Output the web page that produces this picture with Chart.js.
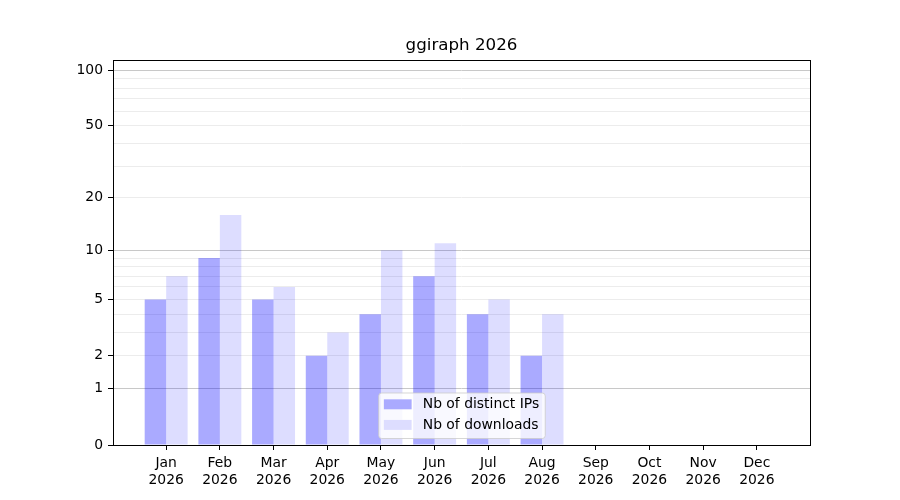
<!DOCTYPE html>
<html>
<head>
<meta charset="utf-8">
<script src="https://cdn.jsdelivr.net/npm/chart.js@4"></script>
<style>
  html, body { margin: 0; padding: 0; background: #ffffff; }
  #wrap { width: 900px; height: 500px; }
</style>
</head>
<body>
<div id="wrap"><canvas id="myChart" width="900" height="500"></canvas></div>
<script>
var months = ['Jan', 'Feb', 'Mar', 'Apr', 'May', 'Jun', 'Jul', 'Aug', 'Sep', 'Oct', 'Nov', 'Dec'];
var yearLabel = '2026';
var distinctIPs = [5, 9, 5, 2, 4, 7, 4, 2, 0, 0, 0, 0];
var downloads = [7, 16, 6, 3, 10, 11, 5, 4, 0, 0, 0, 0];
var yTickLabels = [0, 1, 2, 5, 10, 20, 50, 100];
var yGridMajor = [1, 10, 100];
var yGridMinor = [2, 3, 4, 5, 6, 7, 8, 9, 20, 30, 40, 50, 60, 70, 80, 90];
var yMaxValue = 113.5;

var FONT = 'DejaVu Sans';

// log10(1 + v) keeps zero on the axis
function fwd(v) { return Math.log10(1 + v); }
function inv(t) { return Math.round(Math.pow(10, t) - 1); }

function toPoints(arr) {
    return arr.map(function (v, i) { return { x: i, y: fwd(v) }; });
}

var allYTicks = [0].concat(yGridMajor, yGridMinor)
    .filter(function (v, i, a) { return a.indexOf(v) === i; })
    .sort(function (a, b) { return a - b; });

// black frame round the plot area
var framePlugin = {
    id: 'frame',
    afterDatasetsDraw: function (chart) {
        var a = chart.chartArea, ctx = chart.ctx;
        ctx.save();
        ctx.strokeStyle = '#000000';
        ctx.lineWidth = 1;
        ctx.strokeRect(Math.round(a.left) + 0.5, Math.round(a.top) + 0.5,
            Math.round(a.right - a.left), Math.round(a.bottom - a.top));
        ctx.restore();
    }
};

// legend in the lower middle of the plot area
var innerLegend = {
    id: 'innerLegend',
    afterDraw: function (chart) {
        var a = chart.chartArea, ctx = chart.ctx;
        var fs = 13.9;
        ctx.save();
        ctx.font = fs + 'px "' + FONT + '"';
        var sets = chart.data.datasets;
        var tw = 0;
        sets.forEach(function (d) { tw = Math.max(tw, ctx.measureText(d.label).width); });
        var pad = 5.6, handle = 27.8, gap = 11.1, rowH = 20.6;
        var w = pad + handle + gap + tw + pad;
        var h = 45.5;
        var x = (a.left + a.right) / 2 - w / 2;
        var y = a.bottom - 7 - h;
        ctx.beginPath();
        ctx.roundRect(x + 0.5, y + 0.5, w, h, 3);
        ctx.fillStyle = 'rgba(255,255,255,0.8)';
        ctx.fill();
        ctx.strokeStyle = 'rgba(204,204,204,0.8)';
        ctx.lineWidth = 1;
        ctx.stroke();
        sets.forEach(function (d, i) {
            var cy = y + 11.8 + i * rowH;
            ctx.fillStyle = '#ffffff';
            ctx.fillRect(x + pad, cy - 5, handle, 10);
            ctx.fillStyle = d.backgroundColor;
            ctx.fillRect(x + pad, cy - 5, handle, 10);
            ctx.fillStyle = '#000000';
            ctx.textBaseline = 'middle';
            ctx.textAlign = 'left';
            ctx.fillText(d.label, x + pad + handle + gap, cy);
        });
        ctx.restore();
    }
};

var ctx = document.getElementById('myChart').getContext('2d');
var myChart = new Chart(ctx, {
    type: 'bar',
    data: {
        datasets: [{
            label: 'Nb of distinct IPs',
            data: toPoints(distinctIPs),
            backgroundColor: 'rgba(0,0,255,0.333)',
            borderWidth: 0
        },
        {
            label: 'Nb of downloads',
            data: toPoints(downloads),
            backgroundColor: 'rgba(0,0,255,0.133)',
            borderWidth: 0
        }]
    },
    options: {
        responsive: false,
        animation: false,
        devicePixelRatio: 1,
        categoryPercentage: 0.8,
        barPercentage: 1.0,
        layout: {
            padding: { left: 0, right: 90, top: 0, bottom: 0 }
        },
        scales: {
            x: {
                type: 'linear',
                min: -0.99,
                max: 11.99,
                offset: false,
                afterBuildTicks: function (scale) {
                    scale.ticks = months.map(function (m, i) { return { value: i }; });
                },
                afterFit: function (scale) { scale.height = 55; },
                grid: {
                    offset: false,
                    drawOnChartArea: false,
                    drawTicks: true,
                    tickLength: 5,
                    tickColor: '#000000'
                },
                border: { display: false },
                ticks: {
                    autoSkip: false,
                    maxRotation: 0,
                    padding: 5,
                    color: '#000000',
                    font: { family: FONT, size: 13.9, lineHeight: 1.2 },
                    callback: function (value) { return [months[value], yearLabel]; }
                }
            },
            y: {
                type: 'linear',
                min: 0,
                max: fwd(yMaxValue),
                afterBuildTicks: function (scale) {
                    scale.ticks = allYTicks.map(function (v) { return { value: fwd(v) }; });
                },
                afterFit: function (scale) { scale.width = 113; },
                grid: {
                    drawTicks: true,
                    tickLength: 5,
                    color: function (c) {
                        var v = inv(c.tick.value);
                        if (yGridMajor.indexOf(v) >= 0) return '#c8c8c8';
                        if (yGridMinor.indexOf(v) >= 0) return '#ececec';
                        return 'rgba(0,0,0,0)';
                    },
                    tickColor: function (c) {
                        return yTickLabels.indexOf(inv(c.tick.value)) >= 0 ? '#000000' : 'rgba(0,0,0,0)';
                    }
                },
                border: { display: false },
                ticks: {
                    autoSkip: false,
                    padding: 5,
                    color: '#000000',
                    font: { family: FONT, size: 13.9 },
                    callback: function (value) {
                        var v = inv(value);
                        return yTickLabels.indexOf(v) >= 0 ? String(v) : '';
                    }
                }
            }
        },
        plugins: {
            legend: { display: false },
            tooltip: { enabled: false },
            title: {
                display: true,
                fullSize: false,
                text: 'ggiraph ' + yearLabel,
                color: '#000000',
                font: { family: FONT, size: 16.7, weight: 'normal', lineHeight: 1.2 },
                padding: { top: 36, bottom: 4 }
            }
        }
    },
    plugins: [framePlugin, innerLegend]
});
</script>
</body>
</html>
